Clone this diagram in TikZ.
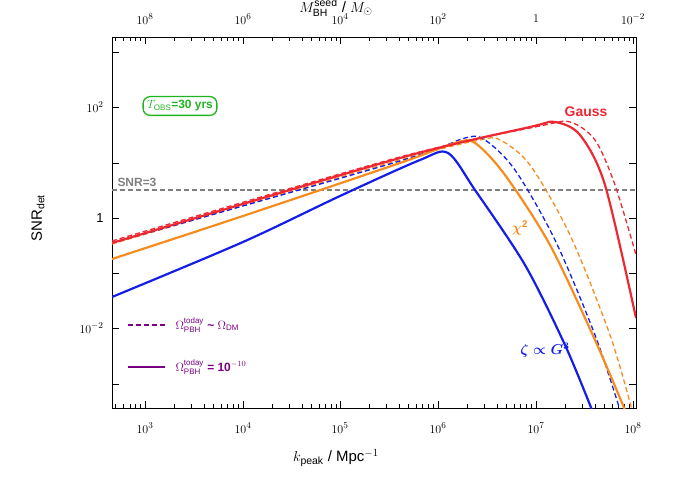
\documentclass[tikz,border=0pt]{standalone}
\usepackage{amsmath}
\usepackage{fontspec}
\setmainfont{Liberation Sans}
\usetikzlibrary{calc}
\definecolor{gaussred}{RGB}{237,40,50}
\definecolor{chiorange}{RGB}{247,140,30}
\definecolor{zetablue}{RGB}{20,30,230}
\definecolor{legpurple}{RGB}{120,0,130}
\definecolor{obsgreen}{RGB}{30,180,30}
\tikzset{
  solidcurve/.style={line width=2.2pt},
  dashcurve/.style={line width=1.3pt, dashed, dash pattern=on 5pt off 3pt},
  ticklabel/.style={font=\fontsize{13}{15}\selectfont},
}
\begin{document}
\begin{tikzpicture}[x=1bp,y=-1bp]
  \useasboundingbox (0,0) rectangle (674,479);
  % frame
  \draw[thin] (112,37) rectangle (636,408);
  % minor ticks
  \begin{scope}
    \clip (112,37) rectangle (636,408);
    \foreach \e in {47.3,145,243,340,438,536} {
      \foreach \m in {0.301,0.477,0.602,0.699,0.778,0.845,0.903,0.954} {
        \draw ($(\e,408)+(97.7*\m,0)$) -- ++(0,-4);
        \draw ($(\e,37)+(97.7*\m,0)$) -- ++(0,4);
      }
    }
  \end{scope}
  % decade ticks, bottom and top
  \foreach \e [count=\i from 3] in {145,243,340,438,536,633} {
    \draw (\e,408) -- ++(0,-7) (\e,37) -- ++(0,7);
    \node[ticklabel] at (\e,428) {$10^{\i}$};
  }
  \foreach \x/\t in {145/{10^8},243/{10^6},340/{10^4},438/{10^2},536/{1},633/{10^{-2}}}
    \node[ticklabel] at (\x,19) {$\t$};
  % y ticks
  \foreach \y in {52,107,163,218,273,328,384} {
    \draw (112,\y) -- ++(7,0) (636,\y) -- ++(-7,0);
  }
  \node[ticklabel,anchor=east] at (107,107) {$10^{2}$};
  \node[ticklabel,anchor=east] at (107,218) {1};
  \node[ticklabel,anchor=east] at (107,328) {$10^{-2}$};
  % axis labels
  \node[font=\fontsize{15}{17}\selectfont] at (336,458) {$k_{\mathrm{peak}}$ / Mpc$^{-1}$};
  \node[font=\fontsize{15}{17}\selectfont] at (336,8) {$M_{\mathrm{BH}}^{\mathrm{seed}}$ / $M_{\odot}$};
  \node[font=\fontsize{15}{17}\selectfont,rotate=90] at (38,218) {SNR$_{\mathrm{det}}$};
  % threshold
  \draw[gray,line width=1.5pt,dashed,dash pattern=on 5pt off 3pt] (112,190) -- (636,190);
  \node[gray,font=\bfseries\fontsize{12}{14}\selectfont,anchor=south west] at (114,190) {SNR=3};
  % curves
  \begin{scope}
    \clip (112,37) rectangle (636,408);
    \draw[dashcurve,gaussred] plot[smooth] coordinates
      {(112,241) (400,157) (540,126) (570,122) (595,140) (615,185) (636,255)};
    \draw[dashcurve,chiorange] plot[smooth] coordinates
      {(112,244) (400,160) (480,140) (500,140) (530,165) (570,235) (610,335) (632,410)};
    \draw[dashcurve,zetablue] plot[smooth] coordinates
      {(112,243) (400,161) (465,138) (485,140) (515,170) (555,240) (595,335) (620,410)};
    \draw[solidcurve,zetablue] plot[smooth] coordinates
      {(112,297) (243,242) (340,196) (420,160) (448,153) (475,190) (525,265) (565,345) (592,410)};
    \draw[solidcurve,chiorange] plot[smooth] coordinates
      {(112,259) (243,216) (400,163) (455,143) (475,143) (505,175) (550,245) (595,340) (625,410)};
    \draw[solidcurve,gaussred] plot[smooth] coordinates
      {(112,243) (400,158) (530,127) (555,122) (580,135) (605,185) (636,318)};
  \end{scope}
  % labels
  \node[gaussred,font=\bfseries\fontsize{14}{16}\selectfont] at (586,112) {Gauss};
  \node[chiorange,font=\bfseries\fontsize{14}{16}\selectfont] at (520,228) {$\boldsymbol{\chi}^{\mathbf 2}$};
  \node[zetablue,font=\bfseries\fontsize{14}{16}\selectfont] at (545,350) {$\boldsymbol{\zeta\propto G^{3}}$};
  \node[obsgreen,draw,rounded corners=7pt,line width=1.3pt,font=\bfseries\fontsize{12}{14}\selectfont,inner sep=4pt] (tobs) at (180,106) {$T_{\mathrm{OBS}}$=30 yrs};
  % legend
  \draw[legpurple,line width=1.5pt,dashed,dash pattern=on 5pt off 3pt] (128,325) -- (165,325);
  \draw[legpurple,line width=2.5pt] (128,367) -- (165,367);
  \node[legpurple,font=\bfseries\fontsize{12}{14}\selectfont,anchor=west] at (172,325) {$\Omega_{\mathrm{PBH}}^{\mathrm{today}}$ \textasciitilde{} $\Omega_{\mathrm{DM}}$};
  \node[legpurple,font=\bfseries\fontsize{12}{14}\selectfont,anchor=west] at (172,367) {$\Omega_{\mathrm{PBH}}^{\mathrm{today}}$ = 10$^{-10}$};
\end{tikzpicture}
\end{document}
